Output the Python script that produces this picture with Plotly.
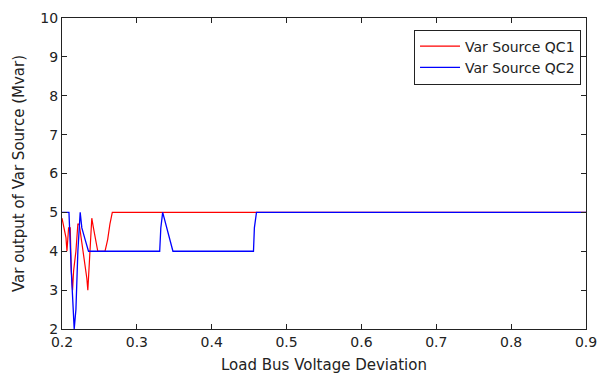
import plotly.graph_objects as go

# Data
qc1_x = [0.2000, 0.2022, 0.2053, 0.2066, 0.2088, 0.2110, 0.2124, 0.2141, 0.2155,
         0.2186, 0.2212, 0.2230, 0.2256, 0.2287, 0.2332, 0.2345, 0.2376, 0.2398,
         0.2420, 0.2442, 0.2478, 0.2575, 0.2610, 0.2640, 0.2672, 0.9000]
qc1_y = [4.85, 4.6, 4.35, 4.0, 4.6, 4.6, 3.5, 3.0, 3.5,
         4.0, 4.7, 4.7, 4.35, 3.8, 3.3, 3.0, 4.0, 4.85,
         4.6, 4.35, 4.0, 4.0, 4.3, 4.7, 5.0, 5.0]

qc2_x = [0.2000, 0.2093, 0.2124, 0.2155, 0.2163, 0.2186, 0.2212, 0.2243,
         0.2265, 0.2309, 0.2354, 0.3305, 0.3320, 0.3345, 0.3482, 0.4558, 0.4570,
         0.4598, 0.9000]
qc2_y = [5.0, 5.0, 3.5, 2.3, 2.0, 2.5, 4.0, 5.0,
         4.6, 4.3, 4.0, 4.0, 4.6, 5.0, 4.0, 4.0, 4.6,
         5.0, 5.0]

x_ticks = [0.2, 0.3, 0.4, 0.5, 0.6, 0.7, 0.8, 0.9]
y_ticks = [2, 3, 4, 5, 6, 7, 8, 9, 10]

FONT = "DejaVu Sans, Arial, sans-serif"
TXT = "#222222"

fig = go.Figure()
fig.add_trace(go.Scatter(x=qc1_x, y=qc1_y, mode="lines", name="Var Source QC1",
                         line=dict(color="#ff0000", width=1.2)))
fig.add_trace(go.Scatter(x=qc2_x, y=qc2_y, mode="lines", name="Var Source QC2",
                         line=dict(color="#0000ff", width=1.3)))

axis_common = dict(showline=True, linecolor=TXT, linewidth=1, mirror="ticks",
                   ticks="inside", ticklen=5, tickcolor=TXT, showgrid=False,
                   zeroline=False, automargin=False,
                   tickfont=dict(family=FONT, size=14, color=TXT))

fig.update_xaxes(range=[0.2, 0.9], tickvals=x_ticks, ticktext=[f"{v:.1f}" for v in x_ticks],
                 title=dict(text="Load Bus Voltage Deviation", standoff=11,
                            font=dict(family=FONT, size=15, color=TXT)),
                 **axis_common)
fig.update_yaxes(range=[2, 10], tickvals=y_ticks, ticktext=[str(v) for v in y_ticks],
                 title=dict(text="Var output of Var Source (Mvar)", standoff=12,
                            font=dict(family=FONT, size=15, color=TXT)),
                 **axis_common)

fig.update_layout(
    width=600, height=374,
    margin=dict(l=61.5, r=14, t=17.5, b=45),
    paper_bgcolor="white", plot_bgcolor="white",
    showlegend=True,
    legend=dict(x=0.9905, y=0.963, xanchor="right", yanchor="top",
                bgcolor="white", bordercolor=TXT, borderwidth=1,
                font=dict(family=FONT, size=14, color=TXT),
                tracegroupgap=0, itemwidth=40),
)

fig.write_html("out.html")
